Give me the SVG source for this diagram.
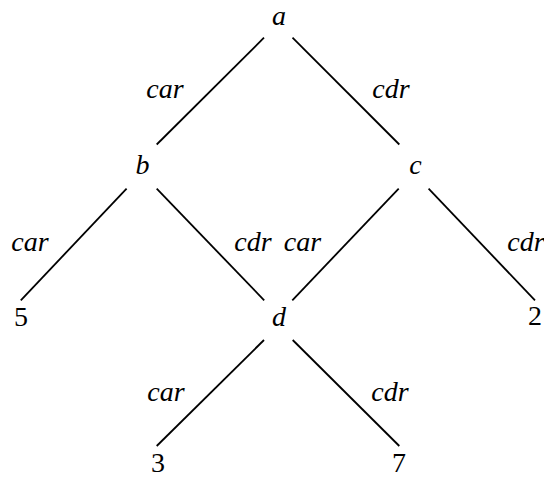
<svg xmlns="http://www.w3.org/2000/svg" width="544" height="479" viewBox="0 0 544 479">
<style>
text{font-family:"Liberation Serif","Times New Roman",serif;font-size:28px;fill:#000;text-anchor:middle}
.v{font-style:italic}
.l{font-style:italic}
.e line{stroke:#000;stroke-width:1.8;stroke-linecap:butt}
</style>
<rect width="544" height="479" fill="#fff"/>
<g class="e" id="connectors">
<line x1="264" y1="37.7" x2="156.7" y2="144.5"/>
<line x1="292.5" y1="37.7" x2="399.3" y2="144.5"/>
<line x1="126.6" y1="188.7" x2="20.8" y2="300.3"/>
<line x1="156.7" y1="188.7" x2="264.2" y2="300.3"/>
<line x1="398.7" y1="188.7" x2="292.3" y2="300.3"/>
<line x1="428.6" y1="188.7" x2="535" y2="300.3"/>
<line x1="264" y1="340" x2="156.7" y2="446"/>
<line x1="292.7" y1="340" x2="399.3" y2="446"/>
</g>
<g id="edge-labels">
<text class="l" x="165" y="98">car</text>
<text class="l" x="391" y="98">cdr</text>
<text class="l" x="30" y="251">car</text>
<text class="l" x="253" y="251">cdr</text>
<text class="l" x="302.5" y="251">car</text>
<text class="l" x="526" y="251">cdr</text>
<text class="l" x="166" y="401">car</text>
<text class="l" x="390" y="401">cdr</text>
</g>
<g id="node-a"><text class="v" x="279" y="25">a</text></g>
<g id="node-b"><text class="v" x="142.5" y="174">b</text></g>
<g id="node-c"><text class="v" x="415.5" y="174">c</text></g>
<g id="node-5"><text x="21" y="326">5</text></g>
<g id="node-d"><text class="v" x="279" y="326">d</text></g>
<g id="node-2"><text x="535" y="325">2</text></g>
<g id="node-3"><text x="158" y="472">3</text></g>
<g id="node-7"><text x="399" y="472">7</text></g>
</svg>
